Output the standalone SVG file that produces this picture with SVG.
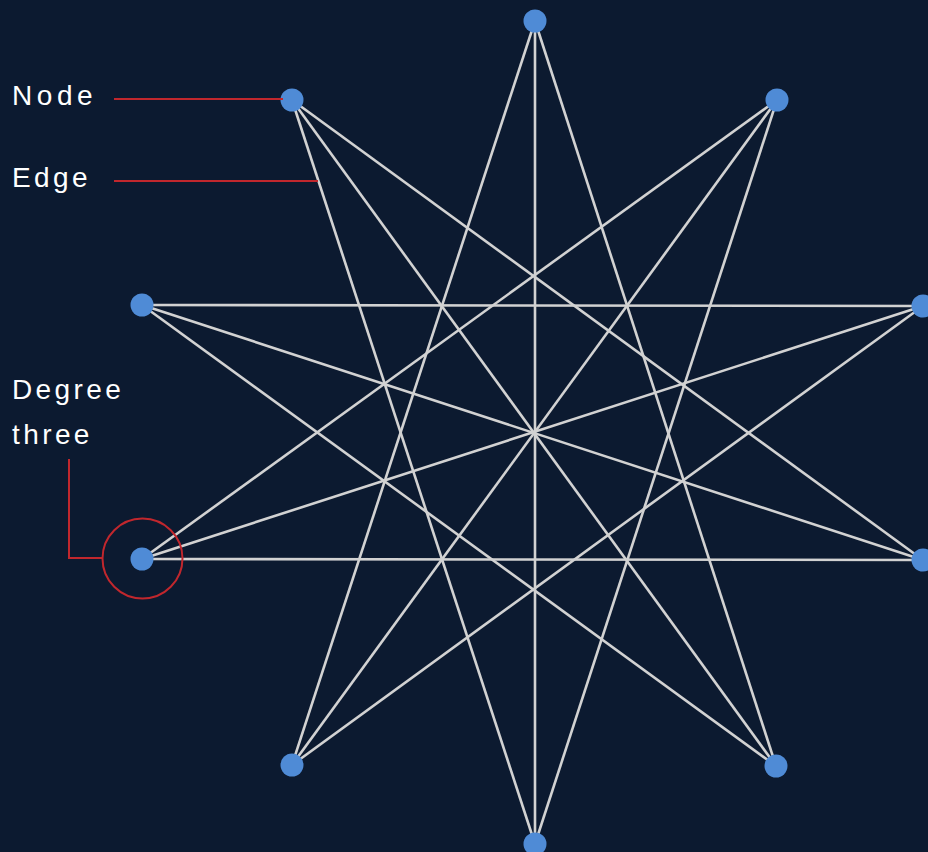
<svg xmlns="http://www.w3.org/2000/svg" width="928" height="852" viewBox="0 0 928 852">
<style>
.bg{fill:#0c1a30}
.edge{stroke:#d2d2d2;stroke-width:2.6;fill:none}
.node{fill:#4f8bd6}
.lead{stroke:#c1272d;stroke-width:2;fill:none}
.lbl{font-family:"Liberation Sans",Arial,sans-serif;font-size:28px;letter-spacing:3.4px;fill:#ffffff}
</style>
<rect class="bg" x="0" y="0" width="928" height="852"/>
<g id="connectors">
<line class="edge" x1="535" y1="21" x2="535" y2="844"/>
<line class="edge" x1="535" y1="21" x2="292" y2="765"/>
<line class="edge" x1="535" y1="21" x2="776" y2="766"/>
<line class="edge" x1="535" y1="844" x2="292" y2="100"/>
<line class="edge" x1="535" y1="844" x2="777" y2="100"/>
<line class="edge" x1="292" y1="100" x2="776" y2="766"/>
<line class="edge" x1="292" y1="100" x2="923" y2="560"/>
<line class="edge" x1="777" y1="100" x2="292" y2="765"/>
<line class="edge" x1="777" y1="100" x2="142" y2="559"/>
<line class="edge" x1="142" y1="305" x2="923" y2="306"/>
<line class="edge" x1="142" y1="305" x2="923" y2="560"/>
<line class="edge" x1="142" y1="305" x2="776" y2="766"/>
<line class="edge" x1="142" y1="559" x2="923" y2="560"/>
<line class="edge" x1="142" y1="559" x2="923" y2="306"/>
<line class="edge" x1="923" y1="306" x2="292" y2="765"/>
</g>
<g id="node-top"><circle class="node" cx="535" cy="21" r="11.5"/></g>
<g id="node-upper-right"><circle class="node" cx="777" cy="100" r="11.5"/></g>
<g id="node-right-upper"><circle class="node" cx="923" cy="306" r="11.5"/></g>
<g id="node-right-lower"><circle class="node" cx="923" cy="560" r="11.5"/></g>
<g id="node-lower-right"><circle class="node" cx="776" cy="766" r="11.5"/></g>
<g id="node-bottom"><circle class="node" cx="535" cy="844" r="11.5"/></g>
<g id="node-lower-left"><circle class="node" cx="292" cy="765" r="11.5"/></g>
<g id="node-left-lower"><circle class="node" cx="142" cy="559" r="11.5"/></g>
<g id="node-left-upper"><circle class="node" cx="142" cy="305" r="11.5"/></g>
<g id="node-upper-left"><circle class="node" cx="292" cy="100" r="11.5"/></g>
<g id="annotations">
<text class="lbl" x="12" y="105" textLength="84">Node</text>
<line class="lead" x1="114" y1="99" x2="283" y2="99"/>
<text class="lbl" x="12" y="187">Edge</text>
<line class="lead" x1="114" y1="181" x2="318" y2="181"/>
<text class="lbl" x="12" y="399">Degree</text>
<text class="lbl" x="12" y="444">three</text>
<polyline class="lead" points="69,459 69,558 102,558"/>
<circle class="lead" cx="142.5" cy="558.5" r="40"/>
</g>
</svg>
